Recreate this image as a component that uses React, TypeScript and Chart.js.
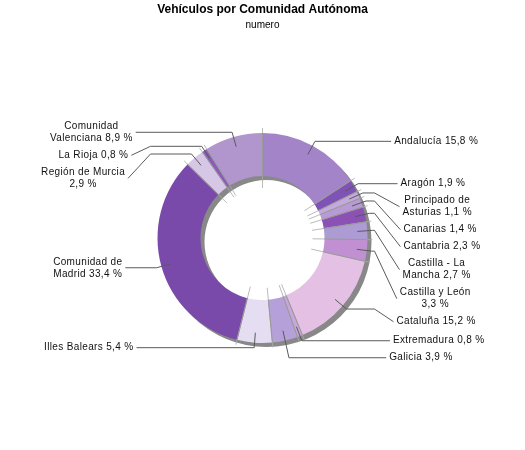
import { useEffect, useRef } from "react";
import { Chart, registerables } from "chart.js";

Chart.register(...registerables);

const chartTitle = "Vehículos por Comunidad Autónoma";
const chartSubtitle = "numero";
const categories = [
  "Andalucía",
  "Aragón",
  "Principado de Asturias",
  "Canarias",
  "Cantabria",
  "Castilla - La Mancha",
  "Castilla y León",
  "Cataluña",
  "Extremadura",
  "Galicia",
  "Illes Balears",
  "Comunidad de Madrid",
  "Región de Murcia",
  "La Rioja",
  "Comunidad Valenciana",
];
const shares = [15.8, 1.9, 1.1, 1.4, 2.3, 2.7, 3.3, 15.2, 0.8, 3.9, 5.4, 33.4, 2.9, 0.8, 8.9];
const sliceColors = [
  "#a484c8",
  "#7f52b5",
  "#c4aadc",
  "#b89bd6",
  "#8b51b5",
  "#ad9bd4",
  "#c190d2",
  "#e4c0e4",
  "#c9a6da",
  "#b5a0d9",
  "#e5ddf1",
  "#7a4aab",
  "#d6c7e7",
  "#8c5cba",
  "#b195cd",
];

const FONT = '"Liberation Sans", Arial, Helvetica, sans-serif';

function fmt(v: number) {
  return v.toFixed(1).replace(".", ",") + "\u00a0%";
}

function wrapText(ctx: CanvasRenderingContext2D, words: string[], maxW: number) {
  const lines: string[] = [];
  let cur = "";
  for (const w of words) {
    const test = cur ? cur + " " + w : w;
    if (cur && ctx.measureText(test).width > maxW) {
      lines.push(cur);
      cur = w;
    } else {
      cur = test;
    }
  }
  if (cur) lines.push(cur);
  return lines;
}

const titlePlugin = {
  id: "customTitle",
  afterDraw(chart: any) {
    const ctx = chart.ctx as CanvasRenderingContext2D;
    const cx = chart.width / 2;
    ctx.save();
    ctx.fillStyle = "#000";
    ctx.textAlign = "center";
    ctx.textBaseline = "alphabetic";
    ctx.font = `bold 12px ${FONT}`;
    ctx.fillText(chartTitle, cx, 12.5);
    ctx.font = `10px ${FONT}`;
    ctx.fillText(chartSubtitle, cx, 28);
    ctx.restore();
  },
};

const shadowPlugin = {
  id: "ringShadow",
  beforeDatasetsDraw(chart: any) {
    const meta = chart.getDatasetMeta(0);
    const arc = meta.data[0];
    if (!arc) return;
    const p = arc.getProps(["x", "y", "outerRadius", "innerRadius"], true);
    const ctx = chart.ctx as CanvasRenderingContext2D;
    ctx.save();
    ctx.fillStyle = "#888888";
    ctx.beginPath();
    ctx.moveTo(p.x + 4 + p.outerRadius, p.y + 4);
    ctx.arc(p.x + 4, p.y + 4, p.outerRadius, 0, Math.PI * 2);
    ctx.moveTo(p.x + 4 + p.innerRadius, p.y + 4);
    ctx.arc(p.x + 4, p.y + 4, p.innerRadius, 0, Math.PI * 2);
    ctx.fill("evenodd");
    ctx.restore();
  },
};

const labelPlugin = {
  id: "outsideLabels",
  afterDatasetsDraw(chart: any) {
    const ctx = chart.ctx as CanvasRenderingContext2D;
    const meta = chart.getDatasetMeta(0);
    const arcs = meta.data;
    const values = chart.data.datasets[0].data as number[];
    const names = chart.data.labels as string[];
    ctx.save();

    // separators between slices
    arcs.forEach((a: any) => {
      const p = a.getProps(["x", "y", "startAngle", "outerRadius", "innerRadius"], true);
      const c = Math.cos(p.startAngle);
      const s = Math.sin(p.startAngle);
      ctx.lineWidth = 1;
      ctx.strokeStyle = "rgba(170,170,170,0.8)";
      ctx.beginPath();
      ctx.moveTo(p.x + (p.innerRadius - 12) * c, p.y + (p.innerRadius - 12) * s);
      ctx.lineTo(p.x + (p.outerRadius + 5) * c, p.y + (p.outerRadius + 5) * s);
      ctx.stroke();
      ctx.strokeStyle = "#999999";
      ctx.beginPath();
      ctx.moveTo(p.x + p.innerRadius * c, p.y + p.innerRadius * s);
      ctx.lineTo(p.x + p.outerRadius * c, p.y + p.outerRadius * s);
      ctx.stroke();
    });

    ctx.font = `10px ${FONT}`;
    (ctx as any).letterSpacing = "0.35px";
    const lineH = 12;
    const gap = 5;

    const items = arcs.map((a: any, i: number) => {
      const p = a.getProps(["x", "y", "startAngle", "endAngle", "outerRadius", "innerRadius"], true);
      const mid = (p.startAngle + p.endAngle) / 2;
      const cos = Math.cos(mid);
      const sin = Math.sin(mid);
      const right = cos >= 0;
      const words = [...names[i].split(" "), fmt(values[i])];
      const lines = wrapText(ctx, words, 93);
      const h = lines.length * lineH;
      const elbowR = p.outerRadius + 5;
      const natY = p.y + elbowR * sin;
      return { p, cos, sin, right, lines, h, elbowR, natY, y: natY };
    });

    [true, false].forEach((side) => {
      const list = items.filter((it: any) => it.right === side).sort((a: any, b: any) => a.natY - b.natY);
      let prevBottom = -Infinity;
      list.forEach((it: any) => {
        const top = Math.max(it.natY - it.h / 2, prevBottom + gap);
        it.y = top + it.h / 2;
        prevBottom = top + it.h;
      });
    });

    items.forEach((it: any) => {
      const { p, cos, sin, right, lines, elbowR } = it;
      const dir = right ? 1 : -1;
      const dy = it.y - p.y;
      const offset = 141 - 0.001 * dy * dy;
      const textEdge = p.x + dir * offset;
      const endX = textEdge - dir * 3;
      const startR = p.outerRadius - 10;

      ctx.strokeStyle = "#5a5a5a";
      ctx.lineWidth = 1;
      ctx.beginPath();
      ctx.moveTo(p.x + startR * cos, p.y + startR * sin);
      const ex = p.x + elbowR * cos;
      const ey = p.y + elbowR * sin;
      ctx.lineTo(ex, ey);
      let done = false;
      if (Math.abs(sin) > 1e-6 && Math.sign(dy) === Math.sign(sin)) {
        const rNeed = dy / sin;
        if (rNeed >= elbowR - 0.5 && rNeed <= p.outerRadius + 20) {
          ctx.lineTo(p.x + rNeed * cos, it.y);
          ctx.lineTo(endX, it.y);
          done = true;
        }
      }
      if (!done) {
        const hx = p.x + dir * 112;
        if (dir * (ex - hx) < 0) ctx.lineTo(hx, ey);
        ctx.lineTo(endX, it.y);
      }
      ctx.stroke();

      // text
      ctx.fillStyle = "#111";
      ctx.textBaseline = "middle";
      const widths = lines.map((l: string) => ctx.measureText(l).width);
      const maxW = Math.max(...widths);
      const centerX = right ? textEdge + maxW / 2 : textEdge - maxW / 2;
      ctx.textAlign = "center";
      lines.forEach((l: string, k: number) => {
        const ly = it.y - it.h / 2 + lineH / 2 + k * lineH;
        ctx.fillText(l, centerX, ly);
      });
    });
    ctx.restore();
  },
};

export default function App() {
  const ref = useRef<HTMLCanvasElement | null>(null);
  useEffect(() => {
    if (!ref.current) return;
    const chart = new Chart(ref.current, {
      type: "doughnut",
      data: {
        labels: categories,
        datasets: [
          {
            data: shares,
            backgroundColor: sliceColors,
            borderWidth: 0,
          },
        ],
      },
      options: {
        responsive: true,
        maintainAspectRatio: false,
        animation: false,
        radius: 105,
        cutout: 62,
        layout: { padding: { top: 133, bottom: 107, left: 150, right: 150 } },
        plugins: {
          legend: { display: false },
          title: { display: false },
          tooltip: { enabled: false },
        },
      } as any,
      plugins: [shadowPlugin, labelPlugin, titlePlugin],
    });
    return () => chart.destroy();
  }, []);
  return (
    <div style={{ position: "absolute", left: 0, top: 0, width: 525, height: 450, background: "#fff" }}>
      <canvas ref={ref} />
    </div>
  );
}
